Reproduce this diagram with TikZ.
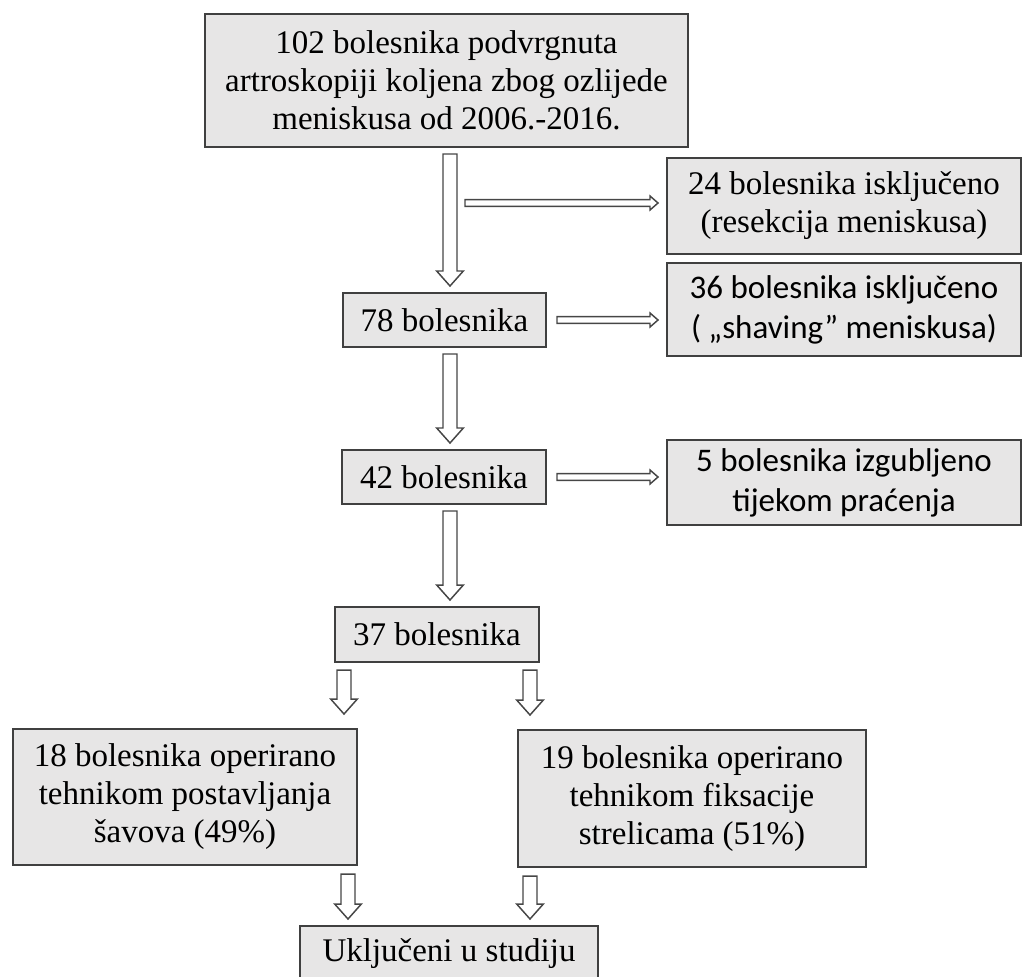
\documentclass[tikz,border=0pt]{standalone}
\usepackage{fontspec}
\setmainfont{Liberation Serif}
\newfontfamily\calfont{Carlito}
\usetikzlibrary{calc}
\definecolor{boxfill}{RGB}{231,230,230}
\definecolor{boxline}{RGB}{64,64,64}
\definecolor{arrline}{RGB}{70,70,70}
\newcommand\serifsz{\fontsize{24.75pt}{28.5pt}\selectfont}
\newcommand\calsz{\calfont\fontsize{24.75pt}{30pt}\selectfont}
\tikzset{
  flowbox/.style={draw=boxline, line width=1.5pt, fill=boxfill, align=center,
    inner sep=0pt, font=\serifsz},
  calbox/.style={flowbox, font=\calsz},
  gap top/.store in=\gaptop, gap bot/.store in=\gapbot,
  gap top=4.5pt, gap bot=4.5pt,
  % hollow block arrows
  downarr/.style={draw=arrline, line width=1.1pt, fill=white,
    to path={let \p1=(\tikztostart), \p2=(\tikztotarget) in
      (\x1-5.25pt,\y1-\gaptop) -- (\x1+5.25pt,\y1-\gaptop)
      -- (\x1+5.25pt,\y2+\gapbot+11.25pt) -- (\x1+10pt,\y2+\gapbot+11.25pt)
      -- (\x1,\y2+\gapbot) -- (\x1-10pt,\y2+\gapbot+11.25pt)
      -- (\x1-5.25pt,\y2+\gapbot+11.25pt) -- cycle}},
  rightarr/.style={draw=arrline, line width=1.1pt, fill=white,
    to path={let \p1=(\tikztostart), \p2=(\tikztotarget) in
      (\x1+7.5pt,\y1-2.6pt) -- (\x2-12pt,\y1-2.6pt) -- (\x2-12pt,\y1-5.25pt)
      -- (\x2-6pt,\y1) -- (\x2-12pt,\y1+5.25pt) -- (\x2-12pt,\y1+2.6pt)
      -- (\x1+7.5pt,\y1+2.6pt) -- cycle}},
}
\begin{document}
\begin{tikzpicture}[x=0.75pt,y=-0.75pt]
\useasboundingbox (0,0) rectangle (1023,976);
\clip (0,0) rectangle (1023,976);
% boxes
\node[flowbox, minimum width=362.25pt, minimum height=99.75pt] (b102) at (446.5,80.5)
  {102 bolesnika podvrgnuta\\artroskopiji koljena zbog ozlijede\\meniskusa od 2006.-2016.};
\node[flowbox, minimum width=265.5pt, minimum height=72pt] (ex24) at (844,206)
  {24 bolesnika isključeno\\ (resekcija meniskusa)};
\node[calbox, minimum width=265.5pt, minimum height=69.75pt] (ex36) at (844,309.5)
  {36 bolesnika isključeno\\( „shaving” meniskusa)};
\node[flowbox, minimum width=152.25pt, minimum height=40.5pt] (n78) at (444.5,320) {78 bolesnika};
\node[calbox, minimum width=265.5pt, minimum height=63.75pt] (ex5) at (844,482.5)
  {5 bolesnika izgubljeno\\tijekom praćenja};
\node[flowbox, minimum width=153pt, minimum height=40.5pt] (n42) at (444,477) {42 bolesnika};
\node[flowbox, minimum width=153pt, minimum height=41.25pt] (n37) at (437,634.5) {37 bolesnika};
\node[flowbox, minimum width=258pt, minimum height=102pt] (n18) at (185,797)
  {18 bolesnika operirano\\tehnikom postavljanja\\šavova (49\%)};
\node[flowbox, minimum width=261pt, minimum height=102.75pt] (n19) at (692,798.5)
  {19 bolesnika operirano\\tehnikom fiksacije\\strelicama (51\%)};
\node[flowbox, minimum width=223.5pt, minimum height=42pt] (uk) at (449,954) {Uključeni u studiju};
\coordinate (split) at (455,203);
% arrows
\draw[downarr] (450,0 |- b102.south) to (n78.north);
\draw[rightarr] (split) to (ex24.west);
\draw[rightarr] (n78.east) to (ex36.west);
\draw[downarr] (450,0 |- n78.south) to (n42.north);
\draw[rightarr] (n42.east) to (ex5.west);
\draw[downarr] (450,0 |- n42.south) to (n37.north);
\draw[downarr, gap top=5.25pt, gap bot=10.5pt] (344,0 |- n37.south) to (n18.north);
\draw[downarr, gap top=5.25pt, gap bot=10.5pt] (530,0 |- n37.south) to (n19.north);
\draw[downarr, gap top=6pt] (348,0 |- n18.south) to (uk.north);
\draw[downarr, gap top=6pt] (530,0 |- n19.south) to (uk.north);
\end{tikzpicture}
\end{document}
